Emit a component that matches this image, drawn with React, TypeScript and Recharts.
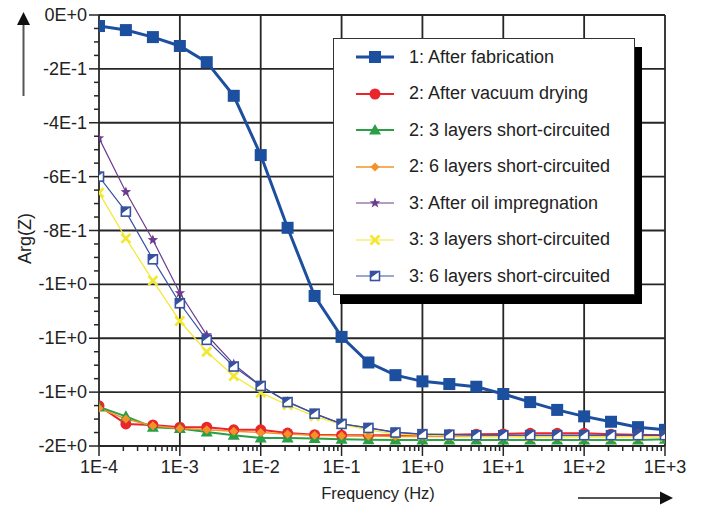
import React from "react";
import { LineChart, Line, XAxis, YAxis, ReferenceLine, Legend, Label } from "recharts";

// ---------- data ----------
const frequencies = [
  1e-4, 2.15e-4, 4.64e-4, 1e-3, 2.15e-3, 4.64e-3, 1e-2, 2.15e-2, 4.64e-2, 1e-1, 2.15e-1,
  4.64e-1, 1, 2.15, 4.64, 10, 21.5, 46.4, 100, 215, 464, 1000,
];

const afterFabrication = [
  -0.041, -0.056, -0.082, -0.115, -0.175, -0.3, -0.52, -0.79, -1.043, -1.195, -1.29,
  -1.337, -1.36, -1.37, -1.38, -1.407, -1.437, -1.466, -1.49, -1.51, -1.53, -1.54,
];
const afterVacuumDrying = [
  -1.451, -1.518, -1.522, -1.53, -1.53, -1.54, -1.54, -1.552, -1.558, -1.56, -1.56,
  -1.56, -1.56, -1.558, -1.556, -1.555, -1.553, -1.553, -1.553, -1.556, -1.558, -1.56,
];
const dried3Layers = [
  -1.455, -1.49, -1.53, -1.535, -1.548, -1.56, -1.57, -1.57, -1.572, -1.575, -1.577,
  -1.578, -1.578, -1.578, -1.578, -1.578, -1.578, -1.578, -1.578, -1.578, -1.578, -1.575,
];
const dried6Layers = [
  -1.46, -1.5, -1.525, -1.535, -1.54, -1.545, -1.55, -1.555, -1.56, -1.562, -1.563,
  -1.565, -1.565, -1.565, -1.565, -1.565, -1.565, -1.565, -1.565, -1.565, -1.565, -1.565,
];
const afterOilImpregnation = [
  -0.457, -0.657, -0.835, -1.032, -1.188, -1.296, -1.377, -1.435, -1.48, -1.518, -1.533,
  -1.548, -1.556, -1.558, -1.56, -1.56, -1.56, -1.56, -1.56, -1.56, -1.56, -1.56,
];
const oil3Layers = [
  -0.66, -0.829, -0.986, -1.136, -1.25, -1.34, -1.402, -1.448, -1.49, -1.52, -1.54,
  -1.556, -1.56, -1.562, -1.563, -1.564, -1.565, -1.565, -1.565, -1.565, -1.565, -1.565,
];
const oil6Layers = [
  -0.6, -0.73, -0.907, -1.07, -1.206, -1.305, -1.377, -1.437, -1.48, -1.518, -1.533,
  -1.55, -1.556, -1.558, -1.56, -1.56, -1.56, -1.56, -1.56, -1.56, -1.56, -1.56,
];

const seriesNames = [
  "1: After fabrication",
  "2: After vacuum drying",
  "2: 3 layers short-circuited",
  "2: 6 layers short-circuited",
  "3: After oil impregnation",
  "3: 3 layers short-circuited",
  "3: 6 layers short-circuited",
];

const xMajorTicks = [1e-4, 1e-3, 1e-2, 1e-1, 1, 10, 100, 1000];
const xTickLabels = ["1E-4", "1E-3", "1E-2", "1E-1", "1E+0", "1E+1", "1E+2", "1E+3"];
const yMajorTicks = [0, -0.2, -0.4, -0.6, -0.8, -1.0, -1.2, -1.4, -1.6];
const yTickLabels = ["0E+0", "-2E-1", "-4E-1", "-6E-1", "-8E-1", "-1E+0", "-1E+0", "-1E+0", "-2E+0"];

const xAxisTitle = "Frequency (Hz)";
const yAxisTitle = "Arg(Z)";

// ---------- styling / config ----------
type Marker = "square" | "circle" | "triangle" | "diamond" | "star" | "cross" | "boxE";
const seriesStyle: { color: string; width: number; marker: Marker }[] = [
  { color: "#1d4f9f", width: 3, marker: "square" },
  { color: "#e8262b", width: 2, marker: "circle" },
  { color: "#2b9f45", width: 2, marker: "triangle" },
  { color: "#f39228", width: 1.5, marker: "diamond" },
  { color: "#6d3b8e", width: 1.2, marker: "star" },
  { color: "#f2e830", width: 1.2, marker: "cross" },
  { color: "#3552a0", width: 1.2, marker: "boxE" },
];
const seriesValues = [
  afterFabrication,
  afterVacuumDrying,
  dried3Layers,
  dried6Layers,
  afterOilImpregnation,
  oil3Layers,
  oil6Layers,
];

const data = frequencies.map((f, i) => {
  const row: Record<string, number> = { f };
  seriesValues.forEach((vals, k) => {
    row["s" + k] = vals[i];
  });
  return row;
});

// minor ticks (axis construction)
const xAllTicks: number[] = [];
xMajorTicks.forEach((t, i) => {
  xAllTicks.push(t);
  if (i < xMajorTicks.length - 1) for (let k = 2; k <= 9; k++) xAllTicks.push(t * k);
});
const yAllTicks: number[] = [];
yMajorTicks.forEach((t, i) => {
  yAllTicks.push(t);
  if (i < yMajorTicks.length - 1) for (let k = 1; k <= 3; k++) yAllTicks.push(t - 0.05 * k);
});

const FONT = '"Liberation Sans", Arial, Helvetica, sans-serif';
const GRID = "#262626";
const TEXT = "#222";

function starPoints(cx: number, cy: number, ro: number, ri: number) {
  const pts: string[] = [];
  for (let i = 0; i < 10; i++) {
    const r = i % 2 === 0 ? ro : ri;
    const a = -Math.PI / 2 + (i * Math.PI) / 5;
    pts.push(`${cx + r * Math.cos(a)},${cy + r * Math.sin(a)}`);
  }
  return pts.join(" ");
}

function renderMarker(kind: Marker, cx: number, cy: number, color: string) {
  switch (kind) {
    case "square":
      return <rect x={cx - 6} y={cy - 6} width={12} height={12} fill={color} />;
    case "circle":
      return <circle cx={cx} cy={cy} r={5.5} fill={color} />;
    case "triangle":
      return <polygon points={`${cx},${cy - 6} ${cx - 6},${cy + 4.5} ${cx + 6},${cy + 4.5}`} fill={color} />;
    case "diamond":
      return <polygon points={`${cx},${cy - 4.5} ${cx + 4.5},${cy} ${cx},${cy + 4.5} ${cx - 4.5},${cy}`} fill={color} />;
    case "star":
      return <polygon points={starPoints(cx, cy, 5.5, 2.3)} fill={color} />;
    case "cross":
      return (
        <g stroke={color} strokeWidth={2.6}>
          <line x1={cx - 4.5} y1={cy - 4.5} x2={cx + 4.5} y2={cy + 4.5} />
          <line x1={cx - 4.5} y1={cy + 4.5} x2={cx + 4.5} y2={cy - 4.5} />
        </g>
      );
    case "boxE":
      return (
        <g>
          <rect x={cx - 4.5} y={cy - 4.5} width={9} height={9} fill="#fff" stroke={color} strokeWidth={1.6} />
          <polygon points={`${cx - 4.5},${cy - 4.5} ${cx + 4.5},${cy - 4.5} ${cx - 4.5},${cy + 2}`} fill={color} />
        </g>
      );
  }
  return null;
}

const isMajor = (list: number[], v: number) =>
  list.findIndex((t) => (t === 0 ? Math.abs(v) < 1e-9 : Math.abs((t - v) / t) < 1e-6));

const XTick = (props: any) => {
  const { x, y, payload } = props;
  const idx = isMajor(xMajorTicks, payload.value);
  const major = idx >= 0;
  return (
    <g>
      <line x1={x} x2={x} y1={y} y2={y + (major ? 10 : 5)} stroke={GRID} strokeWidth={1.5} />
      {major && (
        <text x={x} y={y + 21} textAnchor="middle" dominantBaseline="central" fontSize={18} fontFamily={FONT} fill={TEXT}>
          {xTickLabels[idx]}
        </text>
      )}
    </g>
  );
};

const YTick = (props: any) => {
  const { x, y, payload } = props;
  const idx = isMajor(yMajorTicks, payload.value);
  const major = idx >= 0;
  return (
    <g>
      <line x1={x - (major ? 10 : 5)} x2={x} y1={y} y2={y} stroke={GRID} strokeWidth={1.5} />
      {major && (
        <text x={x - 12} y={y} textAnchor="end" dominantBaseline="central" fontSize={18} fontFamily={FONT} fill={TEXT}>
          {yTickLabels[idx]}
        </text>
      )}
    </g>
  );
};

const LegendBox = () => (
  <div
    style={{
      width: 302,
      height: 257,
      border: "1px solid #333",
      background: "#fff",
      boxShadow: "7px 9px 0 #000",
      fontFamily: FONT,
      fontSize: 18,
      color: TEXT,
      boxSizing: "border-box",
    }}
  >
    {seriesNames.map((name, i) => (
      <div key={name} style={{ display: "flex", alignItems: "center", height: 36.5 }}>
        <svg width={40} height={20} style={{ marginLeft: 21, flex: "none" }}>
          <line x1={1} x2={39} y1={10} y2={10} stroke={seriesStyle[i].color} strokeWidth={seriesStyle[i].width} />
          {renderMarker(seriesStyle[i].marker, 20, 10, seriesStyle[i].color)}
        </svg>
        <span style={{ marginLeft: 14, whiteSpace: "nowrap" }}>{name}</span>
      </div>
    ))}
  </div>
);

export default function App() {
  return (
    <div
      style={{
        position: "fixed",
        left: 0,
        top: 0,
        width: 703,
        height: 508,
        background: "#fff",
        overflow: "hidden",
      }}
    >
      <LineChart
        width={703}
        height={508}
        data={data}
        margin={{ top: 15, right: 38, bottom: 0, left: 0 }}
        style={{ fontFamily: FONT }}
      >
        <XAxis
          dataKey="f"
          type="number"
          scale="log"
          domain={[1e-4, 1e3]}
          ticks={xAllTicks}
          interval={0}
          allowDataOverflow
          tick={<XTick />}
          tickLine={false}
          tickSize={0}
          tickMargin={0}
          axisLine={{ stroke: GRID, strokeWidth: 1.8 }}
          height={62}
        >
          <Label
            content={(p: any) => {
              const vb = p.viewBox;
              return (
                <text x={vb.x + vb.width / 2 - 4} y={vb.y + 47} textAnchor="middle" dominantBaseline="central" fontSize={16.5} fontFamily={FONT} fill={TEXT}>
                  {xAxisTitle}
                </text>
              );
            }}
          />
        </XAxis>
        <YAxis
          type="number"
          domain={[-1.6, 0]}
          ticks={yAllTicks}
          interval={0}
          allowDataOverflow
          tick={<YTick />}
          tickLine={false}
          tickSize={0}
          tickMargin={0}
          axisLine={{ stroke: GRID, strokeWidth: 1.8 }}
          width={99}
        >
          <Label
            content={(p: any) => {
              const vb = p.viewBox;
              const cx = vb.x + 25;
              const cy = vb.y + vb.height / 2 + 8;
              return (
                <text x={cx} y={cy} transform={`rotate(-90 ${cx} ${cy})`} textAnchor="middle" dominantBaseline="central" fontSize={18} fontFamily={FONT} fill={TEXT}>
                  {yAxisTitle}
                </text>
              );
            }}
          />
        </YAxis>
        {yMajorTicks.slice(0, -1).map((v) => (
          <ReferenceLine key={"gy" + v} y={v} stroke={GRID} strokeWidth={1.8} />
        ))}
        {xMajorTicks.slice(1).map((v) => (
          <ReferenceLine key={"gx" + v} x={v} stroke={GRID} strokeWidth={1.8} />
        ))}
        {seriesNames.map((name, k) => (
          <Line
            key={name}
            type="linear"
            dataKey={"s" + k}
            name={name}
            stroke={seriesStyle[k].color}
            strokeWidth={seriesStyle[k].width}
            isAnimationActive={false}
            dot={(p: any) => (
              <g key={`d${k}-${p.index}`}>{renderMarker(seriesStyle[k].marker, p.cx, p.cy, seriesStyle[k].color)}</g>
            )}
            activeDot={false}
          />
        ))}
        <Legend
          layout="vertical"
          align="center"
          verticalAlign="middle"
          content={() => <LegendBox />}
          wrapperStyle={{ left: 333, top: 38, width: "auto", height: "auto" }}
        />
      </LineChart>
      <svg width={703} height={508} style={{ position: "absolute", left: 0, top: 0, pointerEvents: "none" }}>
        <line x1={23.5} y1={96} x2={23.5} y2={24} stroke="#555" strokeWidth={2} />
        <polygon points="23.5,12 17,25 30,25" fill="#111" />
        <line x1={578} y1={498} x2={661} y2={498} stroke="#555" strokeWidth={2} />
        <polygon points="673,498 660,491.5 660,504.5" fill="#111" />
      </svg>
    </div>
  );
}
